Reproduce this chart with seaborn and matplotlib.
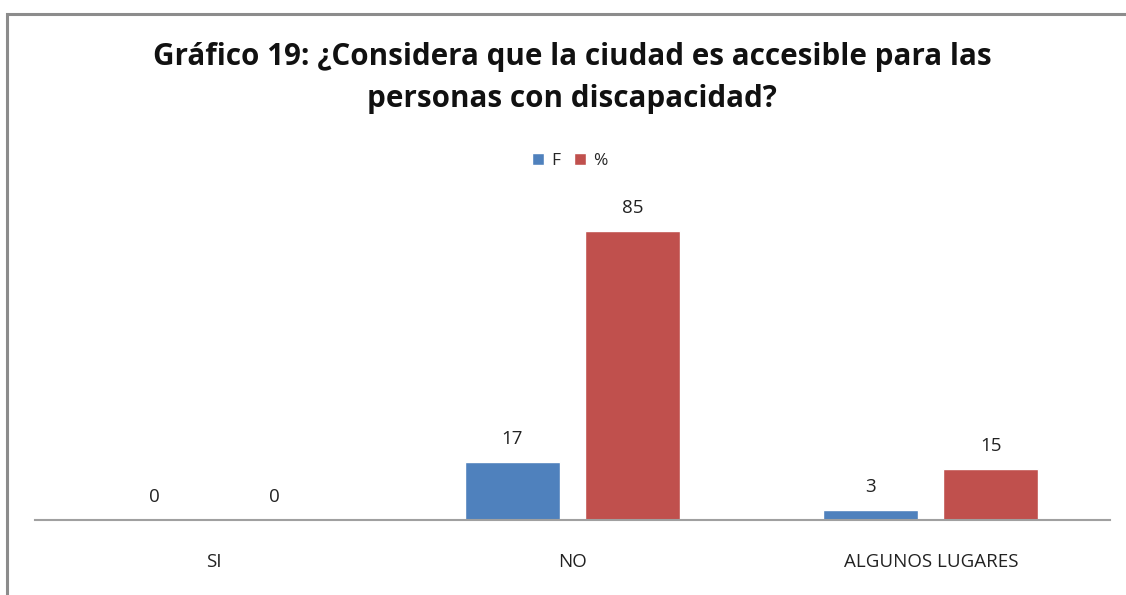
import matplotlib
matplotlib.use("Agg")
import matplotlib.pyplot as plt
import seaborn as sns
import pandas as pd
from matplotlib.patches import Rectangle

categories = ["SI", "NO", "ALGUNOS LUGARES"]
series_names = ["F", "%"]
f_values = [0, 17, 3]
pct_values = [0, 85, 15]
colors = ["#4F81BD", "#C0504D"]

title = "Gráfico 19: ¿Considera que la ciudad es accesible para las\npersonas con discapacidad?"

df = pd.DataFrame({
    "cat": categories * 2,
    "serie": [series_names[0]] * 3 + [series_names[1]] * 3,
    "val": f_values + pct_values,
})

sns.set_theme(style="white")
plt.rcParams['font.family'] = ['Open Sans', 'DejaVu Sans']

W, H = 1126, 595
fig = plt.figure(figsize=(W / 100, H / 100), dpi=100)
# axes: x 35..1110, y baseline 520, top 214 (0..90)
ax = fig.add_axes([35 / W, 1 - 520 / H, 1075 / W, (520 - 214) / H])

sns.barplot(data=df, x="cat", y="val", hue="serie", palette=colors,
            width=0.67, gap=0.21, ax=ax, saturation=1, legend=True)
ax.set_ylim(0, 90)
ax.set_xlim(-0.5, 2.5)
for c in ax.containers:
    ax.bar_label(c, padding=10, fontsize=13.5, color="#222222")

for s in ["top", "right", "left"]:
    ax.spines[s].set_visible(False)
ax.spines["bottom"].set_color("#A0A0A0")
ax.spines["bottom"].set_linewidth(1.5)
ax.set_yticks([])
ax.set_xlabel("")
ax.set_ylabel("")
ax.tick_params(axis="x", length=0, pad=24, labelsize=13.5, colors="#222222")

leg = ax.legend(loc="center", bbox_to_anchor=(570 / W, 1 - 161 / H),
                bbox_transform=fig.transFigure, ncol=2, frameon=False,
                fontsize=12.5, handlelength=0.7, handleheight=0.7,
                handletextpad=0.4, columnspacing=0.8)

fig.text(572 / W, 1 - 78 / H, title, ha="center", va="center",
         fontsize=21.3, fontweight="bold", color="#111111", linespacing=1.5)

fig.patches.append(Rectangle((7 / W, -0.1), 1.2, 1 - 14 / H + 0.1,
                             transform=fig.transFigure, fill=False,
                             edgecolor="#8C8C8C", linewidth=2.2))

fig.savefig("out.png", dpi=100)
